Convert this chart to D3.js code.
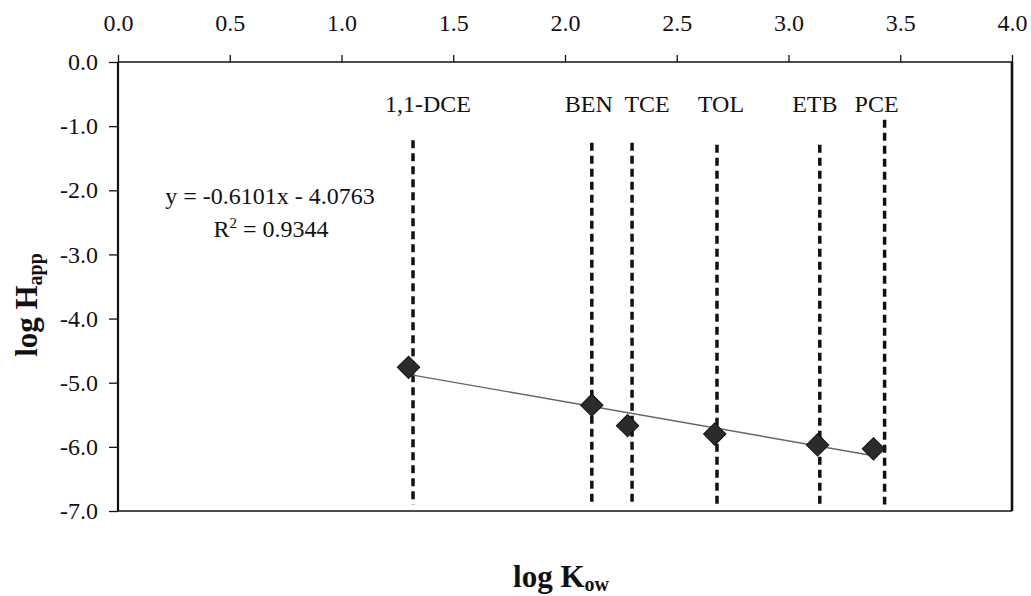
<!DOCTYPE html>
<html>
<head>
<meta charset="utf-8">
<script src="https://cdn.jsdelivr.net/npm/d3@7"></script>
<style>
  body { margin: 0; background: #fff; }
  text { font-family: "Liberation Serif", "Times New Roman", serif; fill: #111; }
</style>
</head>
<body>
<script>
// compounds
let compounds = ["1,1-DCE", "BEN", "TCE", "TOL", "ETB", "PCE"]
let logKow    = [1.30, 2.12, 2.28, 2.67, 3.13, 3.38]
let logHapp   = [-4.76, -5.35, -5.67, -5.80, -5.97, -6.03]

// where the dashed marker lines sit, and how high they start
let markerX   = [1.32, 2.12, 2.30, 2.68, 3.14, 3.43]
let markerTop = [-1.22, -1.26, -1.26, -1.29, -1.29, -0.90]
let markerBottom = -6.9

// linear fit shown on the chart
let slope = -0.6101
let intercept = -4.0763
let rSquared = 0.9344

let xTicks = [0, 0.5, 1, 1.5, 2, 2.5, 3, 3.5, 4]
let yTicks = [0, -1, -2, -3, -4, -5, -6, -7]

let width = 1031
let height = 596
let plotLeft = 118, plotRight = 1012, plotTop = 62, plotBottom = 511

// little nudges so the names sit like in the original
let labelShift = [15, -3, 15, 4, -5, -8]

let svg = d3.select("body")
  .append("svg")
  .attr("width", width)
  .attr("height", height)

let Xscale = d3.scaleLinear()
  .domain([0, 4])
  .range([plotLeft, plotRight])

let Yscale = d3.scaleLinear()
  .domain([0, -7])
  .range([plotTop, plotBottom])

let fmt = d => d.toFixed(1)

let xAxis = d3.axisTop(Xscale)
  .tickValues(xTicks)
  .tickFormat(fmt)
  .tickSize(7)
  .tickPadding(24)

let yAxis = d3.axisLeft(Yscale)
  .tickValues(yTicks)
  .tickFormat(fmt)
  .tickSize(9)
  .tickPadding(11)

let xAxisGroup = svg.append("g")
  .attr("transform", "translate(0," + plotTop + ")")
  .call(xAxis)

let yAxisGroup = svg.append("g")
  .attr("transform", "translate(" + plotLeft + ",0)")
  .call(yAxis)

svg.selectAll(".domain").remove()
svg.selectAll(".tick line").attr("stroke", "#111").attr("stroke-width", 1.3)
svg.selectAll(".tick text")
  .attr("font-size", 24)
  .attr("fill", "#111")

// frame
let frame = [
  [plotLeft, plotTop, plotRight, plotTop, 1.6],
  [plotLeft, plotTop, plotLeft, plotBottom, 2.2],
  [plotLeft, plotBottom, plotRight, plotBottom, 1.6],
  [plotRight, plotTop, plotRight, plotBottom, 2.6]
]
svg.selectAll(".frame")
  .data(frame)
  .enter()
  .append("line")
  .attr("x1", d => d[0]).attr("y1", d => d[1])
  .attr("x2", d => d[2]).attr("y2", d => d[3])
  .attr("stroke", "#111")
  .attr("stroke-width", d => d[4])

// dashed vertical markers
svg.selectAll(".marker")
  .data(markerX)
  .enter()
  .append("line")
  .attr("x1", d => Xscale(d))
  .attr("x2", d => Xscale(d))
  .attr("y1", (d, i) => Yscale(markerTop[i]))
  .attr("y2", Yscale(markerBottom))
  .attr("stroke", "#111")
  .attr("stroke-width", 3.5)
  .attr("stroke-dasharray", "8,5")

// compound names
svg.selectAll(".name")
  .data(compounds)
  .enter()
  .append("text")
  .attr("x", (d, i) => Xscale(markerX[i]) + labelShift[i])
  .attr("y", 112)
  .attr("text-anchor", "middle")
  .attr("font-size", 24)
  .text(d => d)

// trend line over the range of the data
let xMin = d3.min(logKow), xMax = d3.max(logKow)
let fit = [[xMin, slope * xMin + intercept], [xMax, slope * xMax + intercept]]
svg.append("path")
  .datum(fit)
  .attr("d", d3.line().x(d => Xscale(d[0])).y(d => Yscale(d[1])))
  .attr("fill", "none")
  .attr("stroke", "#666")
  .attr("stroke-width", 1.4)

// diamonds
let diamond = d3.symbol().type(d3.symbolSquare).size(250)
svg.selectAll(".pt")
  .data(logKow)
  .enter()
  .append("path")
  .attr("d", diamond)
  .attr("transform", (d, i) => "translate(" + Xscale(d) + "," + Yscale(logHapp[i]) + ") rotate(45)")
  .attr("fill", "#2b2b2b")
  .attr("stroke", "#111")
  .attr("stroke-width", 1)

// equation
svg.append("text")
  .attr("x", 270)
  .attr("y", 204)
  .attr("text-anchor", "middle")
  .attr("font-size", 24)
  .text("y = " + slope + "x - " + Math.abs(intercept))

let r2 = svg.append("text")
  .attr("x", 271)
  .attr("y", 237)
  .attr("text-anchor", "middle")
  .attr("font-size", 24)
r2.append("tspan").text("R")
r2.append("tspan").attr("font-size", 15).attr("dy", -9).text("2")
r2.append("tspan").attr("dy", 9).text(" = " + rSquared)

// axis titles
let yTitle = svg.append("text")
  .attr("transform", "translate(37,305) rotate(-90)")
  .attr("text-anchor", "middle")
  .attr("font-size", 31)
  .attr("font-weight", "bold")
yTitle.append("tspan").text("log H")
yTitle.append("tspan").attr("font-size", 20).attr("dy", 5).text("app")

let xTitle = svg.append("text")
  .attr("x", 561)
  .attr("y", 587)
  .attr("text-anchor", "middle")
  .attr("font-size", 31)
  .attr("font-weight", "bold")
xTitle.append("tspan").text("log K")
xTitle.append("tspan").attr("font-size", 20).attr("dy", 4).text("ow")
</script>
</body>
</html>
